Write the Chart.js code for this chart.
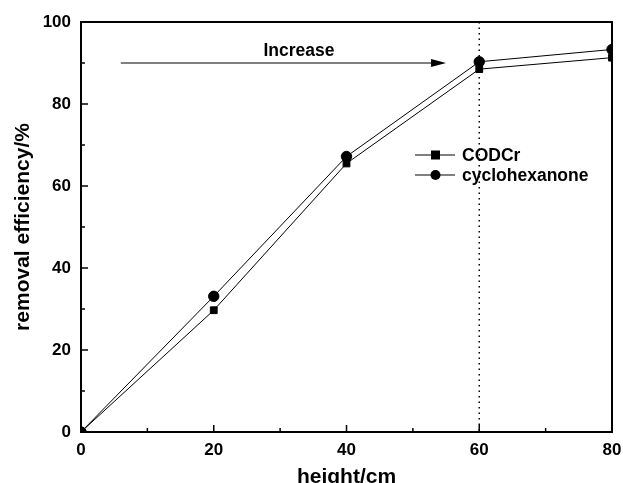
<!DOCTYPE html>
<html>
<head>
<meta charset="utf-8">
<script src="https://cdn.jsdelivr.net/npm/chart.js@4/dist/chart.umd.min.js"></script>
<style>
  html, body { margin: 0; padding: 0; background: #fff; }
  #wrap { width: 623px; height: 483px; }
</style>
</head>
<body>
<div id="wrap"><canvas id="c" width="623" height="483"></canvas></div>
<script>
// data
const heights = [0, 20, 40, 60, 80];
const codcr = [0, 29.7, 65.5, 88.5, 91.3];
const cyclohexanone = [0, 33.1, 67.2, 90.3, 93.3];
const xTicks = [0, 20, 40, 60, 80];
const yTicks = [0, 20, 40, 60, 80, 100];
const markerX = 60;          // dotted line
const arrowX = [6, 55];      // arrow start / end
const arrowY = 90;
const font = '"Liberation Sans", Arial, sans-serif';

function pts(ys) {
    return heights.map((h, i) => ({ x: h, y: ys[i] }));
}

// frame, inward ticks, arrow, dotted line, legend
const decor = {
    id: 'decor',
    afterDatasetsDraw(chart) {
        const ctx = chart.ctx;
        const a = chart.chartArea;
        const sx = chart.scales.x, sy = chart.scales.y;
        ctx.save();

        // dotted vertical line
        ctx.strokeStyle = '#000';
        ctx.lineWidth = 1.5;
        ctx.setLineDash([1.5, 4]);
        const dx = sx.getPixelForValue(markerX);
        ctx.beginPath();
        ctx.moveTo(dx, a.top);
        ctx.lineTo(dx, a.bottom);
        ctx.stroke();
        ctx.setLineDash([]);

        // frame
        ctx.lineWidth = 2;
        ctx.strokeRect(a.left, a.top, a.right - a.left, a.bottom - a.top);

        // ticks pointing inward
        ctx.lineWidth = 1.5;
        for (let v = 0; v <= 80; v += 10) {
            const x = sx.getPixelForValue(v);
            const len = v % 20 === 0 ? 7 : 4;
            ctx.beginPath();
            ctx.moveTo(x, a.bottom);
            ctx.lineTo(x, a.bottom - len);
            ctx.stroke();
        }
        for (let v = 0; v <= 100; v += 10) {
            const y = sy.getPixelForValue(v);
            const len = v % 20 === 0 ? 7 : 4;
            ctx.beginPath();
            ctx.moveTo(a.left, y);
            ctx.lineTo(a.left + len, y);
            ctx.stroke();
        }

        // arrow
        const ax0 = sx.getPixelForValue(arrowX[0]);
        const ax1 = sx.getPixelForValue(arrowX[1]);
        const ay = sy.getPixelForValue(arrowY);
        ctx.lineWidth = 1.2;
        ctx.beginPath();
        ctx.moveTo(ax0, ay);
        ctx.lineTo(ax1 - 10, ay);
        ctx.stroke();
        ctx.fillStyle = '#000';
        ctx.beginPath();
        ctx.moveTo(ax1, ay);
        ctx.lineTo(ax1 - 15, ay - 4);
        ctx.lineTo(ax1 - 15, ay + 4);
        ctx.closePath();
        ctx.fill();

        ctx.font = 'bold 17.5px ' + font;
        ctx.textAlign = 'center';
        ctx.textBaseline = 'middle';
        ctx.fillText('Increase', 299, ay - 12);

        // legend
        const rows = [
            { label: 'CODCr', style: 'rect', y: 155 },
            { label: 'cyclohexanone', style: 'circle', y: 175 }
        ];
        ctx.textAlign = 'left';
        ctx.font = 'bold 17.5px ' + font;
        rows.forEach(r => {
            ctx.lineWidth = 1;
            ctx.beginPath();
            ctx.moveTo(415, r.y);
            ctx.lineTo(455, r.y);
            ctx.stroke();
            if (r.style === 'rect') {
                ctx.fillRect(431, r.y - 4.5, 9, 9);
            } else {
                ctx.beginPath();
                ctx.arc(435.5, r.y, 5, 0, Math.PI * 2);
                ctx.fill();
            }
            ctx.fillText(r.label, 462, r.y + 1);
        });
        ctx.restore();
    }
};

new Chart(document.getElementById('c').getContext('2d'), {
    type: 'line',
    data: {
        datasets: [
            {
                label: 'CODCr',
                data: pts(codcr),
                borderColor: '#000',
                backgroundColor: '#000',
                borderWidth: 1,
                pointStyle: 'rect',
                pointRadius: 4.8,
                tension: 0,
                fill: false
            },
            {
                label: 'cyclohexanone',
                data: pts(cyclohexanone),
                borderColor: '#000',
                backgroundColor: '#000',
                borderWidth: 1,
                pointStyle: 'circle',
                pointRadius: 5.2,
                tension: 0,
                fill: false
            }
        ]
    },
    options: {
        responsive: false,
        animation: false,
        layout: { padding: { top: 22, right: 11, left: 0, bottom: 0 } },
        plugins: {
            legend: { display: false },
            tooltip: { enabled: false }
        },
        scales: {
            x: {
                type: 'linear',
                min: 0,
                max: 80,
                afterBuildTicks: s => { s.ticks = xTicks.map(v => ({ value: v })); },
                afterFit: s => {
                    s.height = 51;
                    s.paddingLeft = 0;
                    s.paddingRight = 0;
                },
                grid: { display: false, drawTicks: false },
                border: { display: false },
                ticks: {
                    color: '#000',
                    padding: 8,
                    font: { family: font, size: 17, weight: 'bold' }
                },
                title: {
                    display: true,
                    text: 'height/cm',
                    color: '#000',
                    padding: { top: 0, bottom: -7 },
                    font: { family: font, size: 21, weight: 'bold' }
                }
            },
            y: {
                min: 0,
                max: 100,
                afterBuildTicks: s => { s.ticks = yTicks.map(v => ({ value: v })); },
                afterFit: s => { s.width = 81; },
                grid: { display: false, drawTicks: false },
                border: { display: false },
                ticks: {
                    color: '#000',
                    padding: 10,
                    font: { family: font, size: 17, weight: 'bold' }
                },
                title: {
                    display: true,
                    text: 'removal efficiency/%',
                    color: '#000',
                    padding: { top: 11, bottom: 0 },
                    font: { family: font, size: 21, weight: 'bold' }
                }
            }
        }
    },
    plugins: [decor]
});
</script>
</body>
</html>
